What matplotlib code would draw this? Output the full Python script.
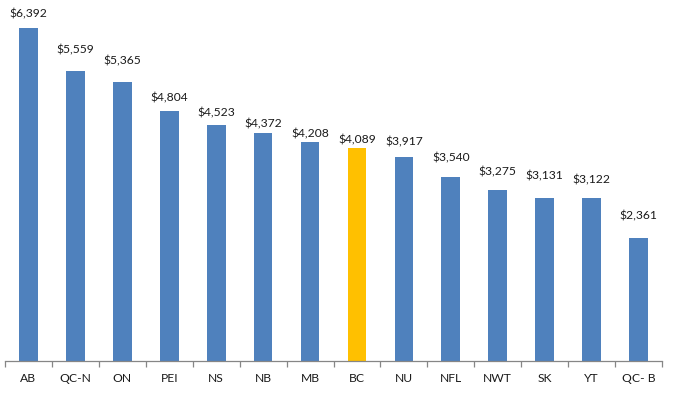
import matplotlib
matplotlib.use("Agg")
import matplotlib.pyplot as plt

categories = ["AB", "QC-N", "ON", "PEI", "NS", "NB", "MB", "BC", "NU", "NFL", "NWT", "SK", "YT", "QC- B"]
values = [6392, 5559, 5365, 4804, 4523, 4372, 4208, 4089, 3917, 3540, 3275, 3131, 3122, 2361]
highlight = "BC"

# label gap above each bar (pixels), as placed in the original
label_gaps = [11, 18, 17, 9, 9, 6, 4, 5, 12, 15, 15, 18, 15, 19]

blue = "#4F81BD"
gold = "#FFC000"

plt.rcParams['font.family'] = ['Lato', 'DejaVu Sans']

fig = plt.figure(figsize=(6.74, 3.95), dpi=100)
ax = fig.add_axes([5/674, 34/395, (662-5)/674, 361/395])

x = list(range(len(categories)))
colors = [gold if c == highlight else blue for c in categories]
ax.bar(x, values, width=0.4, color=colors, zorder=2)

for xi, v, g in zip(x, values, label_gaps):
    ax.annotate(f"${v:,}", (xi, v), xytext=(0, g), textcoords="offset pixels",
                ha="center", va="baseline", fontsize=8.7, color="#1a1a1a")

ax.set_xlim(-0.5, len(categories) - 0.5)
ax.set_ylim(0, 361 / (333 / 6392))

for s in ["top", "right", "left"]:
    ax.spines[s].set_visible(False)
ax.spines["bottom"].set_color("#868686")
ax.spines["bottom"].set_linewidth(0.9)
ax.set_yticks([])

ax.set_xticks(x)
ax.set_xticklabels(categories, fontsize=8.7, color="#1a1a1a")
ax.tick_params(axis="x", which="major", length=0, pad=9)
ax.set_xticks([i - 0.5 for i in range(len(categories) + 1)], minor=True)
ax.tick_params(axis="x", which="minor", length=4, color="#868686", width=0.9)

fig.savefig("out.png", dpi=100)
